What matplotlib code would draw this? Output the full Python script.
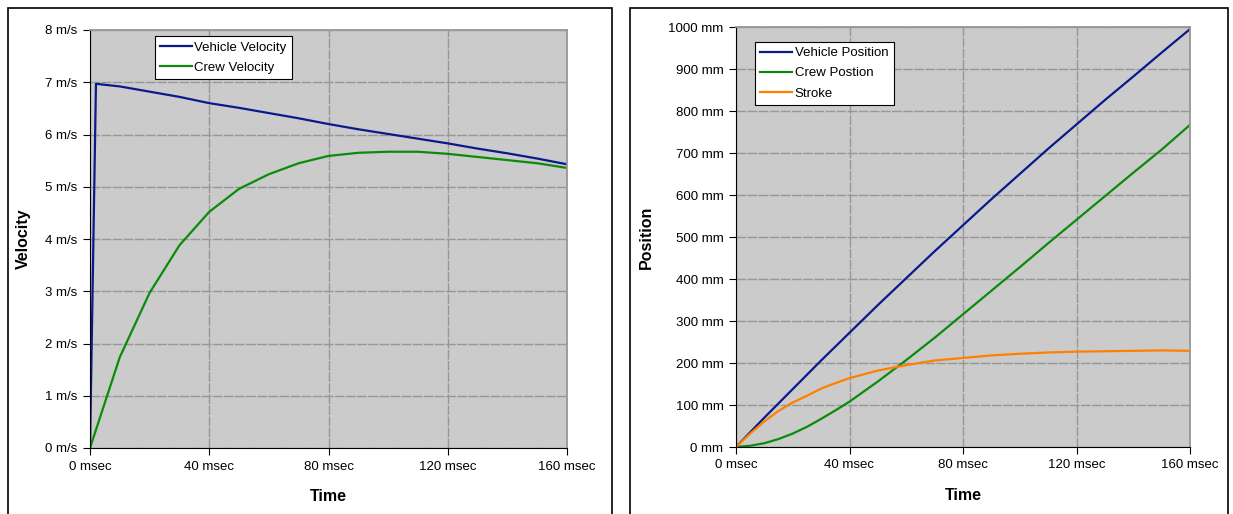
import matplotlib.pyplot as plt
from matplotlib.patches import Rectangle
from matplotlib.ticker import FuncFormatter, MultipleLocator

plt.rcParams['font.family'] = ['Liberation Sans', 'DejaVu Sans']

# velocity chart (msec, m/s)
vel_t = [0, 2, 10, 20, 30, 40, 50, 60, 70, 80, 90, 100, 110, 120, 130, 140, 150, 160]
vehicle_vel = [0, 6.97, 6.92, 6.82, 6.72, 6.60, 6.51, 6.41, 6.31, 6.20, 6.10, 6.01, 5.92,
               5.83, 5.73, 5.64, 5.54, 5.43]
crew_t = [0, 10, 20, 30, 40, 50, 60, 70, 80, 90, 100, 110, 120, 130, 140, 150, 160]
crew_vel = [0, 1.74, 2.97, 3.88, 4.52, 4.96, 5.24, 5.45, 5.59, 5.65, 5.67, 5.67, 5.63,
            5.57, 5.51, 5.45, 5.36]

# position chart (msec, mm)
pos_t = [0, 5, 10, 15, 20, 25, 30, 35, 40, 50, 60, 70, 80, 90, 100, 110, 120, 130, 140, 150, 160]
vehicle_pos = [0, 35, 70, 104, 138, 172, 206, 239, 272, 338, 402, 466, 528, 590, 650, 710,
               768, 826, 882, 939, 995]
crew_pos = [0, 3, 9, 19, 32, 48, 67, 87, 108, 156, 207, 260, 316, 372, 428, 485, 541, 597,
            653, 708, 767]
stroke = [0, 32, 61, 86, 106, 122, 139, 152, 164, 182, 195, 206, 212, 218, 222, 225, 227,
          228, 229, 230, 229]

W, H = 1233, 514
fig = plt.figure(figsize=(W / 100, H / 100), dpi=100)

# chart frames
fig.patches.append(Rectangle((8 / W, -0.01), 604 / W, (514 - 8) / H + 0.01, transform=fig.transFigure,
                             fill=False, edgecolor='black', linewidth=1.2))
fig.patches.append(Rectangle((630 / W, -0.01), 598 / W, (514 - 8) / H + 0.01, transform=fig.transFigure,
                             fill=False, edgecolor='black', linewidth=1.2))


def style_axes(ax, unit, ymax, ystep):
    ax.set_facecolor('#cbcbcb')
    ax.set_xlim(0, 160)
    ax.set_ylim(0, ymax)
    ax.xaxis.set_major_locator(MultipleLocator(40))
    ax.yaxis.set_major_locator(MultipleLocator(ystep))
    ax.xaxis.set_major_formatter(FuncFormatter(lambda v, p: f"{v:.0f} msec"))
    ax.yaxis.set_major_formatter(FuncFormatter(lambda v, p: f"{v:.0f} {unit}"))
    ax.grid(True, color='#979797', linewidth=1.0, linestyle=(0, (7, 1)))
    ax.set_axisbelow(True)
    ax.tick_params(direction='out', length=5, width=0.8, labelsize=9.5, pad=4)
    for s in ('top', 'right'):
        ax.spines[s].set_color('#979797')
        ax.spines[s].set_linewidth(1.3)
    for s in ('left', 'bottom'):
        ax.spines[s].set_color('black')
    ax.set_xlabel('Time', fontsize=11.5, fontweight='bold', labelpad=12)


def add_legend(ax, anchor):
    leg = ax.legend(loc='upper left', bbox_to_anchor=anchor, fontsize=9.5, frameon=True,
                    fancybox=False, edgecolor='black', framealpha=1, facecolor='white',
                    handlelength=2.4, handletextpad=0.2, borderpad=0.4, labelspacing=0.6,
                    borderaxespad=0)
    leg.get_frame().set_linewidth(0.8)


ax1 = fig.add_axes([90 / W, (514 - 448) / H, 477 / W, 418 / H])
ax1.plot(vel_t, vehicle_vel, color='#0a1a8c', linewidth=1.6, label='Vehicle Velocity')
ax1.plot(crew_t, crew_vel, color='#0a8c0a', linewidth=1.6, label='Crew Velocity')
style_axes(ax1, 'm/s', 8, 1)
ax1.set_ylabel('Velocity', fontsize=11.5, fontweight='bold', labelpad=10)
add_legend(ax1, (0.136, 0.985))

ax2 = fig.add_axes([736 / W, (514 - 447) / H, 454 / W, 420 / H])
ax2.plot(pos_t, vehicle_pos, color='#0a1a8c', linewidth=1.6, label='Vehicle Position')
ax2.plot(pos_t, crew_pos, color='#0a8c0a', linewidth=1.6, label='Crew Postion')
ax2.plot(pos_t, stroke, color='#ff8000', linewidth=1.6, label='Stroke')
style_axes(ax2, 'mm', 1000, 100)
ax2.set_ylabel('Position', fontsize=11.5, fontweight='bold', labelpad=10)
add_legend(ax2, (0.042, 0.965))

fig.savefig('out.png', dpi=100)
